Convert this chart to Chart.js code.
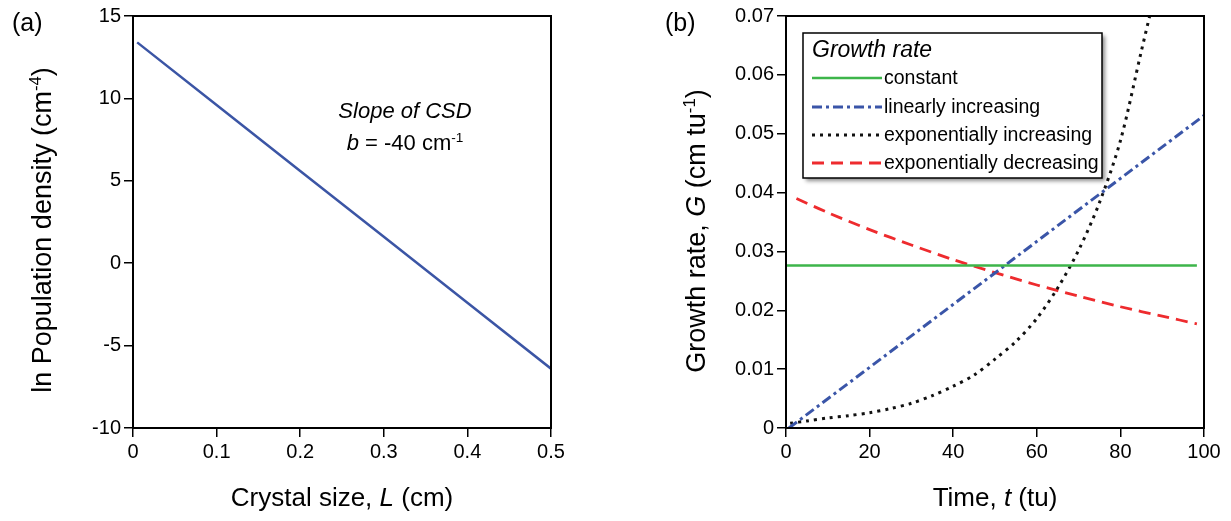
<!DOCTYPE html>
<html>
<head>
<meta charset="utf-8">
<script src="https://cdn.jsdelivr.net/npm/chart.js@4.4.1/dist/chart.umd.min.js"></script>
<style>
  body { margin: 0; background: #fff; }
  #wrap { position: relative; width: 1231px; height: 521px; }
  .panel { position: absolute; top: 0; height: 521px; }
  #panelA { left: 0; width: 615px; }
  #panelB { left: 615px; width: 616px; }
</style>
</head>
<body>
<div id="wrap">
  <div class="panel" id="panelA"><canvas id="chartA"></canvas></div>
  <div class="panel" id="panelB"><canvas id="chartB"></canvas></div>
</div>
<script>
// (a) crystal size distribution
var sizeL = [0.005, 0.1, 0.2, 0.3, 0.4, 0.5];
var lnDensity = [13.4, 9.6, 5.6, 1.6, -2.4, -6.4];
var ticksL = [0, 0.1, 0.2, 0.3, 0.4, 0.5];
var ticksDensity = [-10, -5, 0, 5, 10, 15];

// (b) growth rate curves
var timeConst = [0, 98.3];
var gConst = [0.0276, 0.0276];
var timeLin = [0.7, 20, 40, 60, 80, 100];
var gLin = [0, 0.0103, 0.0210, 0.0317, 0.0424, 0.0531];
var timeExpUp = [1, 5, 10, 15, 20, 25, 30, 35, 40, 45, 50, 55, 60, 65, 70, 75, 80, 85, 87];
var gExpUp = [0.0008, 0.0012, 0.0017, 0.0021, 0.0026, 0.0033, 0.0042, 0.0055, 0.0071, 0.0090,
              0.0117, 0.0147, 0.0186, 0.0238, 0.0302, 0.0383, 0.0488, 0.0640, 0.0700];
var timeExpDown = [2.5, 10, 20, 30, 40, 50, 60, 70, 80, 90, 98.3];
var gExpDown = [0.0390, 0.0366, 0.0337, 0.0311, 0.0286, 0.0264, 0.0243, 0.0224, 0.0206, 0.0190, 0.0177];
var ticksTime = [0, 20, 40, 60, 80, 100];
var ticksG = [0, 0.01, 0.02, 0.03, 0.04, 0.05, 0.06, 0.07];

var SANS = "'Liberation Sans', Arial, sans-serif";

function pts(xs, ys) {
    var out = [];
    for (var i = 0; i < xs.length; i++) out.push({x: xs[i], y: ys[i]});
    return out;
}

// draws text made of parts: [text, style] with style '', 'i' or 'sup'
function richText(ctx, parts, x, y, size, align, italicBase) {
    var w = 0;
    function fontFor(p) {
        var s = p[1] === 'sup' ? size * 0.62 : size;
        var it = (p[1] === 'i' || italicBase) ? 'italic ' : '';
        return it + s + 'px ' + SANS;
    }
    parts.forEach(function(p) { ctx.font = fontFor(p); w += ctx.measureText(p[0]).width; });
    var cx = align === 'center' ? x - w / 2 : x;
    ctx.textAlign = 'left';
    ctx.textBaseline = 'alphabetic';
    parts.forEach(function(p) {
        ctx.font = fontFor(p);
        var dy = p[1] === 'sup' ? -size * 0.38 : 0;
        ctx.fillText(p[0], cx, y + dy);
        cx += ctx.measureText(p[0]).width;
    });
}

function axisOpts(min, max, tickVals, fit, fmt) {
    return {
        type: 'linear', min: min, max: max,
        afterBuildTicks: function(scale) {
            scale.ticks = tickVals.map(function(v) { return {value: v}; });
        },
        afterFit: fit,
        grid: { drawOnChartArea: false, drawTicks: true, tickLength: 9, color: '#000', lineWidth: 1.5 },
        border: { display: true, color: '#000', width: 2 },
        ticks: { color: '#000', padding: 3, font: { family: SANS, size: 20 }, callback: fmt }
    };
}

var frame = {
    id: 'frame',
    afterDraw: function(chart) {
        var a = chart.chartArea, ctx = chart.ctx;
        ctx.save();
        ctx.strokeStyle = '#000';
        ctx.lineWidth = 2;
        ctx.strokeRect(a.left, a.top, a.right - a.left, a.bottom - a.top);
        ctx.restore();
    }
};

var labelsA = {
    id: 'labelsA',
    afterDraw: function(chart) {
        var ctx = chart.ctx, a = chart.chartArea;
        ctx.save();
        ctx.fillStyle = '#000';
        richText(ctx, [['(a)', '']], 12, 31, 25, 'left');
        richText(ctx, [['Crystal size, ', ''], ['L', 'i'], [' (cm)', '']], (a.left + a.right) / 2, 506, 26, 'center');
        richText(ctx, [['Slope of CSD', '']], 405, 118, 22, 'center', true);
        richText(ctx, [['b', 'i'], [' = -40 cm', ''], ['-1', 'sup']], 405, 150, 22, 'center');
        ctx.translate(51, 230);
        ctx.rotate(-Math.PI / 2);
        richText(ctx, [['ln Population density (cm', ''], ['-4', 'sup'], [')', '']], 0, 0, 27, 'center');
        ctx.restore();
    }
};

var labelsB = {
    id: 'labelsB',
    afterDraw: function(chart) {
        var ctx = chart.ctx, a = chart.chartArea;
        ctx.save();
        ctx.fillStyle = '#000';
        richText(ctx, [['(b)', '']], 50, 31, 25, 'left');
        richText(ctx, [['Time, ', ''], ['t', 'i'], [' (tu)', '']], (a.left + a.right) / 2, 506, 26, 'center');
        ctx.save();
        ctx.translate(90, 231);
        ctx.rotate(-Math.PI / 2);
        richText(ctx, [['Growth rate, ', ''], ['G', 'i'], [' (cm tu', ''], ['-1', 'sup'], [')', '']], 0, 0, 27, 'center');
        ctx.restore();

        // legend box
        var bx = 188, by = 33, bw = 299, bh = 145;
        ctx.save();
        ctx.shadowColor = 'rgba(0,0,0,0.45)';
        ctx.shadowBlur = 4;
        ctx.shadowOffsetX = 3;
        ctx.shadowOffsetY = 3;
        ctx.fillStyle = '#fff';
        ctx.fillRect(bx, by, bw, bh);
        ctx.restore();
        ctx.strokeStyle = '#000';
        ctx.lineWidth = 1.5;
        ctx.strokeRect(bx, by, bw, bh);
        ctx.fillStyle = '#000';
        richText(ctx, [['Growth rate', 'i']], 197, 57, 23, 'left');
        var rows = [78, 107, 135, 163];
        chart.data.datasets.forEach(function(ds, i) {
            ctx.save();
            ctx.strokeStyle = ds.borderColor;
            ctx.lineWidth = ds.borderWidth;
            ctx.setLineDash(ds.borderDash || []);
            ctx.beginPath();
            ctx.moveTo(197, rows[i]);
            ctx.lineTo(267, rows[i]);
            ctx.stroke();
            ctx.restore();
            ctx.font = '19.5px ' + SANS;
            ctx.textAlign = 'left';
            ctx.textBaseline = 'middle';
            ctx.fillText(ds.label, 269, rows[i] + 1);
        });
        ctx.restore();
    }
};

new Chart(document.getElementById('chartA'), {
    type: 'line',
    data: {
        datasets: [{
            label: 'ln n',
            data: pts(sizeL, lnDensity),
            borderColor: '#3b55a5',
            borderWidth: 2.5,
            pointRadius: 0,
            fill: false
        }]
    },
    options: {
        responsive: true,
        maintainAspectRatio: false,
        animation: false,
        layout: { padding: { left: 0, top: 16, right: 64, bottom: 0 } },
        plugins: { legend: { display: false }, tooltip: { enabled: false } },
        scales: {
            x: axisOpts(0, 0.5, ticksL, function(s) { s.height = 93; },
                function(v) { return v === 0 ? '0' : v.toFixed(1); }),
            y: axisOpts(-10, 15, ticksDensity, function(s) { s.width = 133; },
                function(v) { return String(v); })
        }
    },
    plugins: [frame, labelsA]
});

new Chart(document.getElementById('chartB'), {
    type: 'line',
    data: {
        datasets: [{
            label: 'constant',
            data: pts(timeConst, gConst),
            borderColor: '#3db54a',
            borderWidth: 2.5,
            pointRadius: 0
        }, {
            label: 'linearly increasing',
            data: pts(timeLin, gLin),
            borderColor: '#3a55a8',
            borderWidth: 3,
            borderDash: [10, 4, 3, 4],
            pointRadius: 0
        }, {
            label: 'exponentially increasing',
            data: pts(timeExpUp, gExpUp),
            borderColor: '#111',
            borderWidth: 3,
            borderDash: [3, 5],
            pointRadius: 0,
            tension: 0.3
        }, {
            label: 'exponentially decreasing',
            data: pts(timeExpDown, gExpDown),
            borderColor: '#ee2b2e',
            borderWidth: 2.8,
            borderDash: [12, 7],
            pointRadius: 0,
            tension: 0.3
        }]
    },
    options: {
        responsive: true,
        maintainAspectRatio: false,
        animation: false,
        layout: { padding: { left: 0, top: 16, right: 27, bottom: 0 } },
        plugins: { legend: { display: false }, tooltip: { enabled: false } },
        scales: {
            x: axisOpts(0, 100, ticksTime, function(s) { s.height = 93; },
                function(v) { return String(v); }),
            y: axisOpts(0, 0.07, ticksG, function(s) { s.width = 171; },
                function(v) { return v === 0 ? '0' : v.toFixed(2); })
        }
    },
    plugins: [frame, labelsB]
});
</script>
</body>
</html>
